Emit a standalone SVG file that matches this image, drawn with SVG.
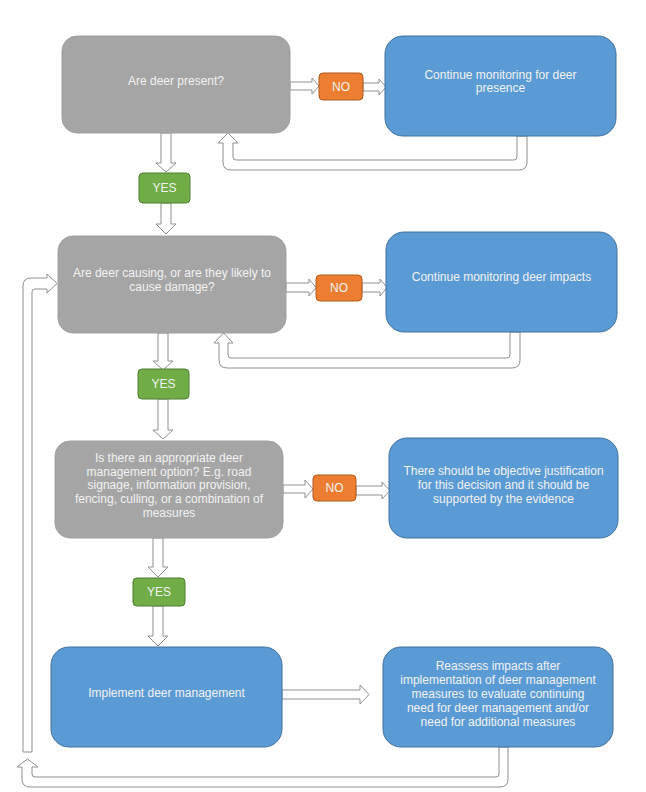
<svg xmlns="http://www.w3.org/2000/svg" width="646" height="792" viewBox="0 0 646 792">
<style>
.bg{fill:#ffffff}
.q{fill:#a5a5a5;stroke:#a0a0a0;stroke-width:1}
.b{fill:#5b9bd5;stroke:#41719c;stroke-width:1}
.no{fill:#ed7d31;stroke:#ae5a21;stroke-width:1}
.yes{fill:#70ad47;stroke:#507e32;stroke-width:1}
.arr{fill:#ffffff;stroke:#8f8f8f;stroke-width:1;stroke-linejoin:miter}
text{font-family:"Liberation Sans",Arial,sans-serif;font-size:12px;fill:#f2f2f2;text-anchor:middle}
</style>
<rect class="bg" x="0" y="0" width="646" height="792"/>
<g id="connectors">
<path class="arr" d="M290,82 H312 V78 L319,86 L312,94 V90 H290 Z"/>
<path class="arr" d="M363,83 H379 V79 L386,87 L379,95 V91 H363 Z"/>
<path class="arr" d="M517,136 H527 V162 Q527,170 519,170 H231 Q223,170 223,162 V143 H218 L228,133 L238,143 H233 V157 Q233,160 236,160 H514 Q517,160 517,157 Z"/>
<path class="arr" d="M161,133 H171 V163 H176 L166,172 L156,163 H161 Z"/>
<path class="arr" d="M161,203 H171 V224 H176 L166,234 L156,224 H161 Z"/>
<path class="arr" d="M286,283 H309 V279 L316,287.5 L309,296 V292 H286 Z"/>
<path class="arr" d="M362,283 H380 V279 L387,287.5 L380,296 V292 H362 Z"/>
<path class="arr" d="M510,332 H520 V360 Q520,368 512,368 H227 Q219,368 219,360 V343 H214 L223.5,333 L233,343 H228 V355 Q228,358 231,358 H507 Q510,358 510,355 Z"/>
<path class="arr" d="M158,333 H168 V361 H173 L163,370 L153,361 H158 Z"/>
<path class="arr" d="M158,399 H168 V430 H173 L163,439 L153,430 H158 Z"/>
<path class="arr" d="M283,485 H305 V480 L313,489 L305,498 V493 H283 Z"/>
<path class="arr" d="M356,486 H382 V482 L390,490.5 L382,499 V495 H356 Z"/>
<path class="arr" d="M153,538 H163 V567 H168 L158,577 L148,567 H153 Z"/>
<path class="arr" d="M153,606 H163 V636 H168 L158,646 L148,636 H153 Z"/>
<path class="arr" d="M282,690 H360 V685 L369,694.5 L360,704 V699 H282 Z"/>
<path class="arr" d="M499,747 H508 V779 Q508,787 500,787 H30 Q22,787 22,779 V767 H17 L27.5,759 L38,767 H32 V774 Q32,777 35,777 H496 Q499,777 499,774 Z"/>
<path class="arr" d="M23,752 V286 Q23,278 31,278 H47 V274 L57,283.5 L47,293 V289 H35 Q32,289 32,292 V752 Z"/>
</g>
<g id="q1"><rect class="q" x="62" y="36" width="228" height="97" rx="15"/><text x="176" y="85">Are deer present?</text></g>
<g id="no1"><rect class="no" x="319" y="73" width="44" height="27" rx="4"/><text x="341" y="91">NO</text></g>
<g id="b1"><rect class="b" x="385" y="36" width="231" height="100" rx="18"/><text x="500.5" y="79">Continue monitoring for deer</text><text x="500.5" y="92">presence</text></g>
<g id="yes1"><rect class="yes" x="139" y="173" width="51" height="30" rx="4"/><text x="164.5" y="192">YES</text></g>
<g id="q2"><rect class="q" x="58" y="236" width="228" height="97" rx="15"/><text x="172" y="277">Are deer causing, or are they likely to</text><text x="172" y="291">cause damage?</text></g>
<g id="no2"><rect class="no" x="316" y="275" width="46" height="26" rx="4"/><text x="339" y="292">NO</text></g>
<g id="b2"><rect class="b" x="386" y="232" width="231" height="100" rx="18"/><text x="501.5" y="281">Continue monitoring deer impacts</text></g>
<g id="yes2"><rect class="yes" x="138" y="369" width="51" height="30" rx="4"/><text x="163.5" y="388">YES</text></g>
<g id="q3"><rect class="q" x="55" y="441" width="228" height="97" rx="15"/>
<text x="169" y="462">Is there an appropriate deer</text>
<text x="169" y="475.7">management option? E.g. road</text>
<text x="169" y="489.4">signage, information provision,</text>
<text x="169" y="503.1">fencing, culling, or a combination of</text>
<text x="169" y="516.8">measures</text></g>
<g id="no3"><rect class="no" x="313" y="475" width="43" height="26" rx="4"/><text x="334.5" y="492">NO</text></g>
<g id="b3"><rect class="b" x="389" y="438" width="229" height="100" rx="18"/>
<text x="503.5" y="475">There should be objective justification</text>
<text x="503.5" y="489">for this decision and it should be</text>
<text x="503.5" y="503">supported by the evidence</text></g>
<g id="yes3"><rect class="yes" x="133" y="578" width="52" height="28" rx="4"/><text x="159" y="596">YES</text></g>
<g id="b4"><rect class="b" x="51" y="647" width="231" height="100" rx="18"/><text x="166.5" y="697">Implement deer management</text></g>
<g id="b5"><rect class="b" x="383" y="647" width="230" height="100" rx="18"/>
<text x="498" y="670">Reassess impacts after</text>
<text x="498" y="684">implementation of deer management</text>
<text x="498" y="698">measures to evaluate continuing</text>
<text x="498" y="712">need for deer management and/or</text>
<text x="498" y="726">need for additional measures</text></g>
</svg>
